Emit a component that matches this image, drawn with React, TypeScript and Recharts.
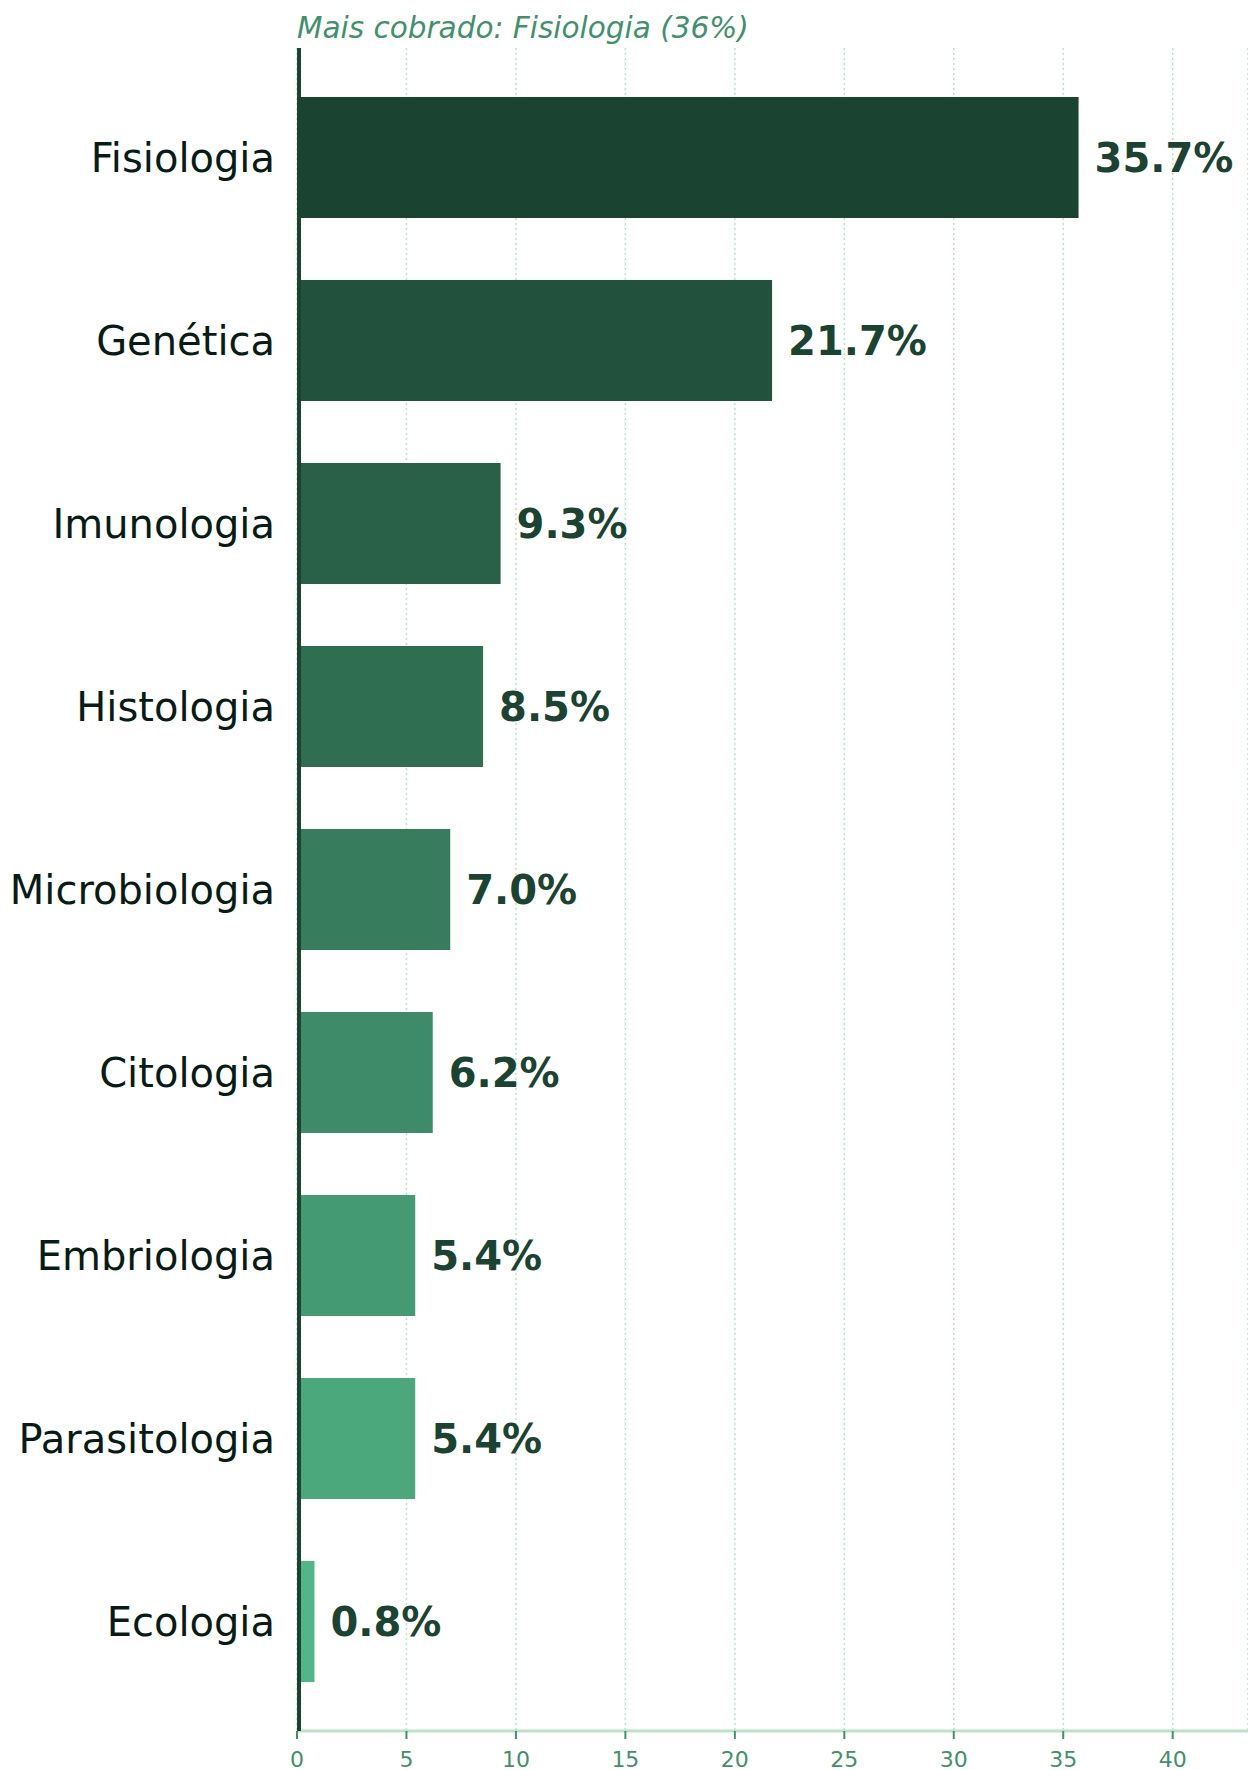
import React from "react";
import { BarChart, Bar, XAxis, YAxis, CartesianGrid, Cell, LabelList } from "recharts";

const categories = [
  "Fisiologia",
  "Genética",
  "Imunologia",
  "Histologia",
  "Microbiologia",
  "Citologia",
  "Embriologia",
  "Parasitologia",
  "Ecologia",
];
const shares = [35.7, 21.7, 9.3, 8.5, 7.0, 6.2, 5.4, 5.4, 0.8];
const xTicks = [0, 5, 10, 15, 20, 25, 30, 35, 40];
const barColors = [
  "#1b4332",
  "#22513d",
  "#296048",
  "#306e52",
  "#377d5d",
  "#3d8b68",
  "#449a72",
  "#4ba87d",
  "#52b788",
];
const titleText = "Mais cobrado: Fisiologia (36%)";

const data = categories.map((name, i) => ({ name, value: shares[i] }));

const FONT = "'DejaVu Sans', sans-serif";

export default function App() {
  return (
    <div style={{ position: "absolute", left: 0, top: 0, width: 1248, height: 1770, background: "#fff" }}>
      <svg width={1248} height={60} style={{ position: "absolute", left: 0, top: 0 }}>
        <text x={297} y={38} fontFamily={FONT} fontStyle="italic" fontSize={29.5} fill="#40916c">
          {titleText}
        </text>
      </svg>
      <div style={{ position: "absolute", left: 0, top: 0 }}>
        <BarChart
          width={1248}
          height={1770}
          data={data}
          layout="vertical"
          margin={{ top: 48, right: 0, bottom: 0, left: 0 }}
          barSize={121}
        >
          <CartesianGrid horizontal={false} vertical={true} stroke="#b7e4c7" strokeDasharray="2 3" strokeWidth={1.5} />
          <XAxis
            type="number"
            domain={[0, 43.44]}
            ticks={xTicks}
            allowDataOverflow
            height={39}
            tickSize={8}
            tickMargin={12}
            axisLine={{ stroke: "#b7e4c7", strokeWidth: 3 }}
            tickLine={{ stroke: "#40916c", strokeWidth: 2 }}
            tick={{ fill: "#40916c", fontSize: 22, fontFamily: FONT }}
          />
          <Bar dataKey="value" isAnimationActive={false}>
            {data.map((d, i) => (
              <Cell key={d.name} fill={barColors[i]} />
            ))}
            <LabelList
              dataKey="value"
              position="right"
              offset={16}
              formatter={(v: any) => `${Number(v).toFixed(1)}%`}
              style={{ fill: "#1b4332", fontSize: 40, fontWeight: "bold", fontFamily: FONT }}
            />
          </Bar>
          <YAxis
            type="category"
            dataKey="name"
            width={297}
            padding={{ top: 18, bottom: 18 }}
            tickLine={false}
            tickSize={0}
            tickMargin={22}
            interval={0}
            axisLine={{ stroke: "#1b4332", strokeWidth: 4, transform: "translate(2 0)" }}
            tick={{ fill: "#081c15", fontSize: 40, fontFamily: FONT }}
          />
        </BarChart>
      </div>
    </div>
  );
}
